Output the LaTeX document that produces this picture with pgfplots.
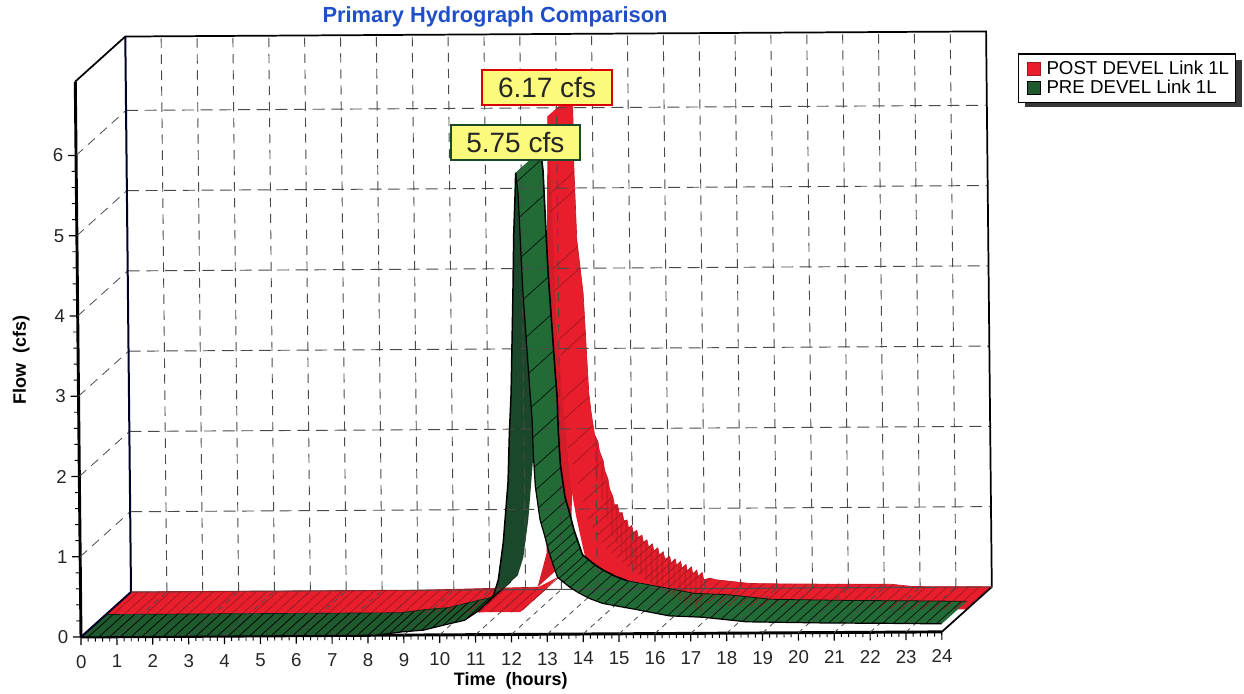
\documentclass[border=0pt]{standalone}
\usepackage{fontspec}
\setmainfont{Liberation Sans}
\usepackage{pgfplots}
\usepackage{pgfplotstable}
\pgfplotsset{compat=1.18}
\usepgfplotslibrary{fillbetween}
\definecolor{rflat}{HTML}{E81E2C}
\definecolor{rhat}{HTML}{A01820}
\definecolor{gflat}{HTML}{1F5A2E}
\definecolor{gdark}{HTML}{1B472A}
\definecolor{gfall}{HTML}{226B36}
\definecolor{lab}{HTML}{FBFA7C}
\definecolor{gridg}{HTML}{4A4A4A}
\definecolor{titleb}{HTML}{1F4FC8}

\pgfplotstableread{
t q
0 0
8.2 0
8.95 0.04
9.55 0.06
10.1 0.12
10.7 0.18
11.1 0.30
11.5 0.47
}\greenflat
\pgfplotstableread{
t q
11.5 0.47
11.65 0.68
11.8 1.15
11.95 1.9
12.0 2.5
12.06 3.0
12.14 4.25
12.18 5.0
12.23 5.5
12.25 5.75
}\greenrise
\pgfplotstableread{
t q
12.25 5.75
12.31 5.5
12.42 4.25
12.59 3.0
12.64 2.67
12.66 2.26
12.71 1.84
12.83 1.43
12.96 1.22
13.07 1.02
13.3 0.71
13.65 0.58
13.9 0.51
14.2 0.44
14.55 0.38
}\greenfallupper
\pgfplotstableread{
t q
14.55 0.38
15.5 0.30
16.4 0.22
17.35 0.20
18.55 0.14
20.7 0.12
22.55 0.11
24 0.10
}\greenfalllower
\pgfplotstableread{
t q
12.25 5.75
12.31 5.5
12.42 4.25
12.59 3.0
12.64 2.67
12.66 2.26
12.71 1.84
12.83 1.43
12.96 1.22
13.07 1.02
13.3 0.71
13.65 0.58
13.9 0.51
14.2 0.44
14.55 0.38
15.5 0.30
16.4 0.22
17.35 0.20
18.55 0.14
20.7 0.12
22.55 0.11
24 0.10
}\greenfall
\pgfplotstableread{
t q
12.28 5.64
12.35 5.2
12.38 4.7
12.42 4.17
12.49 3.7
12.55 3.25
12.62 2.83
12.65 2.45
12.68 2.08
12.72 1.8
12.78 1.57
12.85 1.38
12.96 1.2
13.03 1.1
13.1 1.0
13.18 0.9
13.26 0.8
13.33 0.69
13.45 0.64
13.65 0.58
13.9 0.52
14.15 0.47
14.4 0.42
14.6 0.38
14.85 0.35
15.15 0.32
15.45 0.30
15.75 0.27
16.05 0.25
16.35 0.22
16.65 0.215
16.95 0.21
17.25 0.2
17.55 0.19
17.85 0.175
18.15 0.16
18.45 0.145
18.75 0.14
19.05 0.137
19.35 0.134
19.65 0.13
19.95 0.127
20.25 0.125
20.55 0.12
20.85 0.12
21.15 0.117
21.45 0.115
21.75 0.113
22.05 0.112
22.35 0.11
22.65 0.11
22.95 0.108
23.25 0.105
23.55 0.103
23.85 0.10
}\greenfallhatch
\pgfplotstableread{
t q
0.2 0
0.5 0
0.8 0
1.1 0
1.4 0
1.7 0
2.0 0
2.3 0
2.6 0
2.9 0
3.2 0
3.5 0
3.8 0
4.1 0
4.4 0
4.7 0
5.0 0
5.3 0
5.6 0
5.9 0
6.2 0
6.5 0
6.8 0
7.1 0
7.4 0
7.7 0
8.0 0
8.3 0
8.6 0.02
8.9 0.04
9.2 0.05
9.5 0.06
9.8 0.09
10.1 0.12
10.4 0.15
10.7 0.18
11.0 0.27
11.3 0.38
}\greenflathatch
\pgfplotstableread{
t q
0 0
11.55 0
12.6 0.43
}\redflatfront
\pgfplotstableread{
t q
0 0
8 0
11.35 0.03
}\redflatback
\pgfplotstableread{
t q
0.2 0
0.5 0
0.8 0
1.1 0
1.4 0
1.7 0
2.0 0
2.3 0
2.6 0
2.9 0
3.2 0
3.5 0
3.8 0
4.1 0
4.4 0
4.7 0
5.0 0
5.3 0
5.6 0
5.9 0
6.2 0
6.5 0
6.8 0
7.1 0
7.4 0
7.7 0
8.0 0
8.3 0
8.6 0
8.9 0
9.2 0
9.5 0
9.8 0
10.1 0
10.4 0
10.7 0
11.0 0
11.3 0
11.6 0.02
11.9 0.14
}\redflathatch
\pgfplotstableread{
t q
12.04 0.31
12.3 0.73
12.33 1.5
12.38 3.5
12.42 5.2
12.45 6.17
}\redrise
\pgfplotstableread{
t q
12.45 6.17
12.57 4.86
12.63 3.6
12.87 2.25
12.97 1.63
13.13 1.2
13.32 0.79
13.5 0.45
13.78 0.2
14.1 0.1
14.6 0.1
15.17 0.16
17.26 0.05
24 0
}\redfallfront
\pgfplotstableread{
t q
12.45 6.17
12.47 5.22
12.53 4.35
12.69 3.69
12.82 2.44
12.88 2.2
12.93 2.04
12.97 1.92
13.06 1.84
13.1 1.72
13.2 1.6
13.24 1.48
13.33 1.37
13.37 1.25
13.46 1.15
13.5 1.05
13.59 1.05
13.63 0.95
13.72 0.95
13.76 0.85
13.85 0.86
13.89 0.76
13.98 0.79
14.02 0.70
14.12 0.73
14.16 0.64
14.26 0.67
14.30 0.58
14.40 0.61
14.44 0.52
14.55 0.56
14.59 0.47
14.70 0.51
14.74 0.42
14.85 0.46
14.89 0.37
15.03 0.40
15.07 0.31
15.18 0.37
15.22 0.28
15.33 0.34
15.37 0.25
15.48 0.30
15.52 0.21
15.63 0.27
15.67 0.18
15.78 0.23
15.82 0.14
15.93 0.20
15.97 0.11
16.15 0.13
16.3 0.11
17.26 0.06
18.5 0.05
21.2 0.04
21.8 0.01
24 0
}\redfallback
\pgfplotstableread{
t q
12.47 5.2
12.49 4.98
12.55 4.27
12.6 4.0
12.72 3.4
12.75 3.2
12.8 2.65
12.83 2.4
12.93 2.04
13.06 1.84
13.2 1.6
13.33 1.37
13.46 1.15
13.59 1.05
13.72 0.95
13.85 0.86
13.98 0.79
14.12 0.73
14.26 0.67
14.40 0.61
14.55 0.56
14.70 0.51
14.85 0.46
15.03 0.40
15.18 0.37
15.33 0.34
15.48 0.30
15.63 0.27
15.78 0.23
15.93 0.20
16.15 0.13
16.45 0.10
16.75 0.09
17.05 0.07
17.35 0.06
17.65 0.06
17.95 0.05
18.25 0.05
18.55 0.05
18.85 0.05
19.15 0.05
19.45 0.05
19.75 0.05
20.05 0.05
20.35 0.04
20.65 0.04
20.95 0.04
21.25 0.04
21.55 0.02
21.85 0.01
22.15 0
22.45 0
22.75 0
23.05 0
23.35 0
23.65 0
23.95 0
}\redbackhatch
\pgfplotstableread{
t q
13.06 1.84
13.2 1.6
13.33 1.37
13.46 1.15
13.59 1.05
13.72 0.95
13.85 0.86
13.98 0.79
14.12 0.73
14.26 0.67
14.40 0.61
14.55 0.56
14.70 0.51
14.85 0.46
15.03 0.40
15.18 0.37
15.33 0.34
15.48 0.30
15.63 0.27
15.78 0.23
15.93 0.20
}\redbands

\newcommand{\hx}{0.7035}
\newcommand{\hy}{0.2785}
\newcommand{\bx}{1.407}
\newcommand{\by}{0.557}

\begin{document}
\begin{tikzpicture}
% legend shadow
\fill[black!78] (769pt,439.5pt) rectangle (931.5pt,475pt);
\begin{axis}[
  at={(60.75pt,42pt)}, anchor=origin,
  x={(26.9pt,0.16pt)}, y={(-0.62pt,60.2pt)},
  xmin=0, xmax=24, ymin=0, ymax=6.92,
  clip=false,
  axis x line=bottom, axis y line=left,
  axis line style={-, line width=2.2pt, black},
  xtick={0,...,24}, ytick={0,...,6},
  minor x tick num=4, minor y tick num=4,
  tick align=outside,
  major tick length=6pt, minor tick length=3.5pt,
  tick style={black, line width=0.9pt},
  minor tick style={black, line width=0.7pt},
  /pgf/number format/assume math mode=true,
  xticklabel style={font=\fontsize{14pt}{15pt}\selectfont, text=black!85, yshift=-4pt},
  yticklabel style={font=\fontsize{14pt}{15pt}\selectfont, text=black!85},
  xlabel={Time\ \ (hours)}, ylabel={Flow\ \ (cfs)},
  xlabel style={at={(axis cs:11.97,-0.575)}, anchor=center, font=\fontsize{13.5pt}{15pt}\selectfont\bfseries},
  ylabel style={at={(axis cs:-1.59,3.45)}, anchor=center, rotate=0, font=\fontsize{13.5pt}{15pt}\selectfont\bfseries},
  title={Primary Hydrograph Comparison},
  title style={at={(axis cs:11.72,7.6)}, anchor=center, font=\fontsize{16.4pt}{18pt}\selectfont\bfseries, text=titleb},
  legend style={at={(axis cs:26.29,7.2)}, anchor=north west, draw=black, line width=0.8pt,
    font=\fontsize{14pt}{15pt}\selectfont, inner xsep=3pt, inner ysep=3.2pt, row sep=-1pt,
    legend cell align=left, fill=white},
  legend image code/.code={\draw[#1] (3.5pt,-5pt) rectangle (13.5pt,5pt); \path[draw=none,fill=none] (0pt,0pt) -- (16pt,0pt);},
  axis on top=false,
]
\addlegendimage{fill=rflat, draw=rhat, line width=0.5pt}
\addlegendimage{fill=gflat, draw=black, line width=0.7pt}
\legend{POST DEVEL Link 1L, PRE DEVEL Link 1L}

% back wall: vertical grid
\pgfplotsinvokeforeach{1,...,23}{
  \addplot[gridg, line width=0.7pt, dash pattern=on 7pt off 5pt] coordinates {(#1+\bx,\by) (#1+\bx,6.92+\by)};
  \addplot[gridg, line width=0.6pt, dash pattern=on 4pt off 3.5pt] coordinates {(#1,0) (#1+\bx,\by)};
}
% back wall: horizontal grid and side wall
\pgfplotsinvokeforeach{1,...,6}{
  \addplot[gridg, line width=0.7pt, dash pattern=on 9pt off 5pt] coordinates {(\bx,#1+\by) (24+\bx,#1+\by)};
  \addplot[gridg, line width=0.6pt, dash pattern=on 7pt off 5pt] coordinates {(0,#1) (\bx,#1+\by)};
}
% frame
\addplot[black, line width=1.3pt] coordinates {(0,6.92) (\bx,6.92+\by) (24+\bx,6.92+\by) (24+\bx,\by) (24,0)};
\addplot[black!85!blue, line width=1.5pt] coordinates {(\bx,6.92+\by) (\bx,\by) (0,0)};
\addplot[black!70, line width=0.8pt] coordinates {(\bx,\by) (24+\bx,\by)};

% RED: flat ribbon
\addplot[draw=none, name path=rfa] table[x expr=\thisrow{t}+\hx, y expr=\thisrow{q}+\hy] {\redflatfront};
\addplot[draw=none, name path=rfb] table[x expr=\thisrow{t}+\bx, y expr=\thisrow{q}+\by] {\redflatback};
\addplot[rflat] fill between[of=rfa and rfb];
\addplot[quiver={u=\hx,v=\hy}, -, rhat, line width=0.5pt] table[x expr=\thisrow{t}+\hx, y expr=\thisrow{q}+\hy] {\redflathatch};
% RED: rise
\addplot[draw=none, name path=rra] table[x expr=\thisrow{t}+\hx, y expr=\thisrow{q}+\hy] {\redrise};
\addplot[draw=none, name path=rrb] table[x expr=\thisrow{t}+\bx, y expr=\thisrow{q}+\by] {\redrise};
\addplot[rflat!92!black] fill between[of=rra and rrb];
% RED: fall
\addplot[draw=none, name path=rla] table[x expr=\thisrow{t}+\hx, y expr=\thisrow{q}+\hy] {\redfallfront};
\addplot[draw=none, name path=rlb] table[x expr=\thisrow{t}+\bx, y expr=\thisrow{q}+\by] {\redfallback};
\addplot[rflat] fill between[of=rla and rlb];
\addplot[quiver={u=0,v=-0.45}, -, rhat, opacity=0.35, line width=1.5pt] table[x expr=\thisrow{t}+\bx-0.03, y expr=\thisrow{q}+\by-0.04] {\redbands};
\addplot[quiver={u=-\hx,v=-\hy}, -, rhat, line width=0.5pt] table[x expr=\thisrow{t}+\bx, y expr=\thisrow{q}+\by] {\redbackhatch};
\addplot[rhat, line width=0.5pt] table[x expr=\thisrow{t}+\bx, y expr=\thisrow{q}+\by] {\redflatback};
\addplot[rflat!85!black, line width=0.5pt] table[x expr=\thisrow{t}+\bx, y expr=\thisrow{q}+\by] {\redfallback};

% GREEN: flat
\addplot[draw=none, name path=gfa] table {\greenflat};
\addplot[draw=none, name path=gfb] table[x expr=\thisrow{t}+\hx, y expr=\thisrow{q}+\hy] {\greenflat};
\addplot[gflat] fill between[of=gfa and gfb];
\addplot[quiver={u=\hx,v=\hy}, -, black, line width=0.55pt] table {\greenflathatch};
% GREEN: rise
\addplot[draw=none, name path=gra] table {\greenrise};
\addplot[draw=none, name path=grb] table[x expr=\thisrow{t}+\hx, y expr=\thisrow{q}+\hy] {\greenrise};
\addplot[gdark] fill between[of=gra and grb];
% GREEN: fall
\addplot[draw=none, name path=gla] table {\greenfall};
\addplot[draw=none, name path=glb] table[x expr=\thisrow{t}+\hx, y expr=\thisrow{q}+\hy] {\greenfall};
\addplot[gfall] fill between[of=gla and glb];
\addplot[quiver={u=\hx,v=\hy}, -, black!80!gfall, line width=0.55pt] table {\greenfallhatch};
% GREEN: outlines
\addplot[black, line width=0.9pt] table {\greenflat};
\addplot[black, line width=1.1pt] table {\greenrise};
\addplot[black, line width=0.9pt] table {\greenfall};
\addplot[black!60!gflat, line width=0.5pt] table[x expr=\thisrow{t}+\hx, y expr=\thisrow{q}+\hy] {\greenflat};
\addplot[black, line width=1.2pt] table[x expr=\thisrow{t}+\hx, y expr=\thisrow{q}+\hy] {\greenfallupper};
\addplot[black!75!gflat, line width=0.6pt] table[x expr=\thisrow{t}+\hx, y expr=\thisrow{q}+\hy] {\greenfalllower};

% labels
\node[draw=red!85!black, line width=1.5pt, fill=lab, minimum width=97pt, minimum height=26pt,
  inner sep=0pt, font=\fontsize{21pt}{22pt}\selectfont, text=black!85] at (axis cs:13.15,6.81) {6.17 cfs};
\node[draw=gdark, line width=1.5pt, fill=lab, minimum width=97pt, minimum height=26pt,
  inner sep=0pt, font=\fontsize{21pt}{22pt}\selectfont, text=black!85] at (axis cs:12.25,6.125) {5.75 cfs};
\end{axis}
\pgfresetboundingbox
\path[use as bounding box] (0,0) rectangle (933pt,519.75pt);
\end{tikzpicture}
\end{document}
